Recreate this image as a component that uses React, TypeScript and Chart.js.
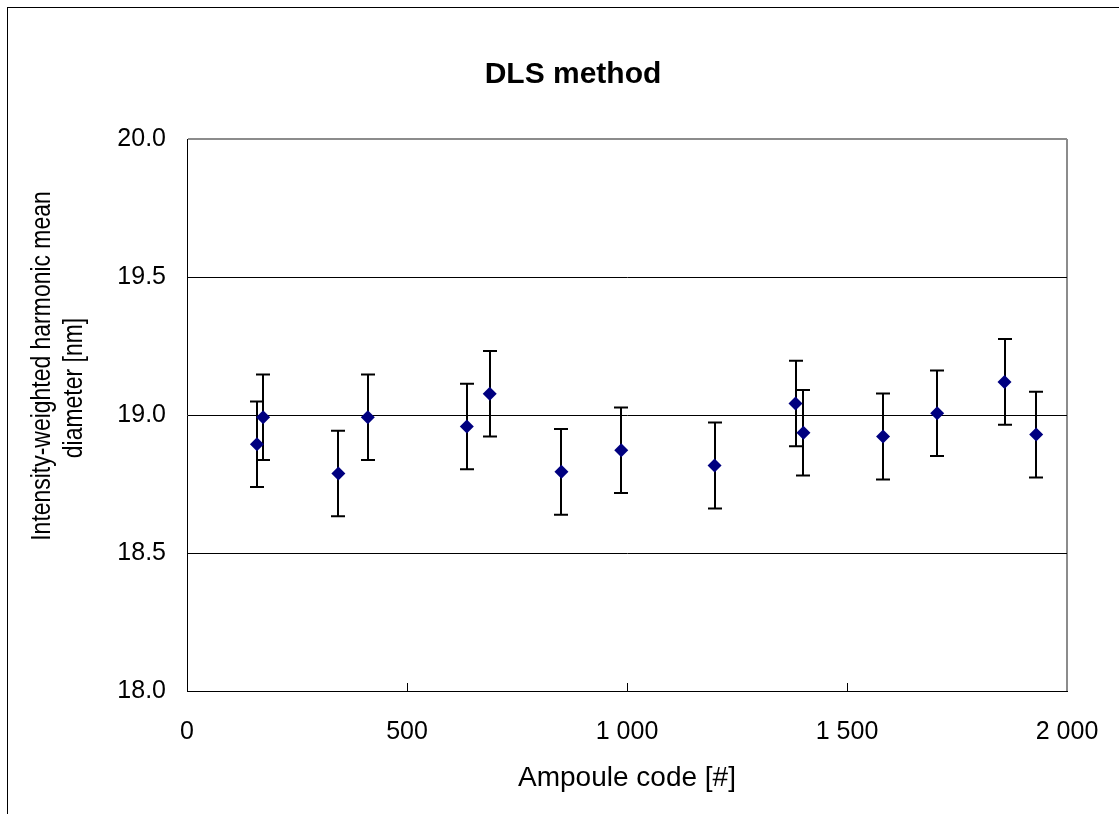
import React, { useEffect, useRef } from 'react';
import { Chart, registerables } from 'chart.js';

Chart.register(...registerables);

// ---- data ----
const ampouleCodes = [159, 173, 344, 411, 636, 688, 851, 987, 1199, 1383, 1401, 1582, 1705, 1858, 1930];
const meanDiameters = [18.894, 18.992, 18.788, 18.992, 18.958, 19.077, 18.794, 18.872, 18.817, 19.042, 18.936, 18.922, 19.006, 19.12, 18.929];
const uncertainties = [0.155, 0.155, 0.155, 0.155, 0.155, 0.155, 0.155, 0.155, 0.156, 0.155, 0.155, 0.156, 0.155, 0.155, 0.155];
const xTickValues = [0, 500, 1000, 1500, 2000];
const yTickValues = [18.0, 18.5, 19.0, 19.5, 20.0];
const chartTitle = 'DLS method';
const xAxisTitle = 'Ampoule code [#]';
const yAxisTitleLines = ['Intensity-weighted harmonic mean', 'diameter [nm]'];

const FONT = '"Liberation Sans", Arial, Helvetica, sans-serif';

const fmtThousands = (v: number) => String(v).replace(/\B(?=(\d{3})+(?!\d))/g, ' ');

const errorBarPlugin = {
  id: 'errorBars',
  beforeDatasetsDraw(chart: any) {
    const { ctx, scales } = chart;
    const xs = scales.x;
    const ys = scales.y;
    ctx.save();
    ctx.strokeStyle = '#000';
    ctx.lineWidth = 2;
    const cap = 7;
    ampouleCodes.forEach((code, i) => {
      const px = Math.round(xs.getPixelForValue(code));
      const top = ys.getPixelForValue(meanDiameters[i] + uncertainties[i]);
      const bot = ys.getPixelForValue(meanDiameters[i] - uncertainties[i]);
      ctx.beginPath();
      ctx.moveTo(px, top);
      ctx.lineTo(px, bot);
      ctx.moveTo(px - cap, top);
      ctx.lineTo(px + cap, top);
      ctx.moveTo(px - cap, bot);
      ctx.lineTo(px + cap, bot);
      ctx.stroke();
    });
    ctx.restore();
  },
  afterDraw(chart: any) {
    const { ctx, scales, chartArea } = chart;
    const xs = scales.x;
    ctx.save();
    // inward tick marks on the x axis
    ctx.strokeStyle = '#000';
    ctx.lineWidth = 1;
    xTickValues.slice(1, -1).forEach((v) => {
      const px = Math.round(xs.getPixelForValue(v)) + 0.5;
      ctx.beginPath();
      ctx.moveTo(px, chartArea.bottom);
      ctx.lineTo(px, chartArea.bottom - 8);
      ctx.stroke();
    });
    // y axis title (two lines, slightly condensed as in the reference)
    ctx.fillStyle = '#000';
    ctx.font = `27px ${FONT}`;
    ctx.textAlign = 'center';
    ctx.textBaseline = 'middle';
    const pos = [
      [chartArea.left - 144, chartArea.top + 227],
      [chartArea.left - 112, chartArea.top + 249],
    ];
    yAxisTitleLines.forEach((line, i) => {
      ctx.save();
      ctx.translate(pos[i][0], pos[i][1]);
      ctx.rotate(-Math.PI / 2);
      ctx.scale(0.85, 1);
      ctx.fillText(line, 0, 0);
      ctx.restore();
    });
    ctx.restore();
  },
};

export default function App() {
  const canvasRef = useRef<HTMLCanvasElement | null>(null);

  useEffect(() => {
    if (!canvasRef.current) return;
    const chart = new Chart(canvasRef.current, {
      type: 'scatter',
      data: {
        datasets: [
          {
            label: 'DLS',
            data: ampouleCodes.map((x, i) => ({ x, y: meanDiameters[i] })),
            pointStyle: 'rectRot',
            pointRadius: 7,
            pointHoverRadius: 7,
            pointBackgroundColor: '#000080',
            pointBorderColor: '#000080',
            pointBorderWidth: 0,
            showLine: false,
          },
        ],
      },
      options: {
        animation: false,
        responsive: false,
        events: [],
        layout: { padding: { left: 79, right: 52, top: 0, bottom: 0 } },
        plugins: {
          legend: { display: false },
          tooltip: { enabled: false },
          title: {
            display: true,
            text: chartTitle,
            color: '#000',
            font: { family: FONT, size: 30, weight: 'bold' },
            padding: { top: 57, bottom: 46 },
          },
        },
        scales: {
          x: {
            type: 'linear',
            min: 0,
            max: 2000,
            afterBuildTicks: (scale: any) => {
              scale.ticks = xTickValues.map((v) => ({ value: v }));
            },
            afterFit: (scale: any) => {
              scale.height = 123;
              scale.paddingLeft = 0;
              scale.paddingRight = 0;
            },
            ticks: {
              color: '#000',
              font: { family: FONT, size: 25 },
              padding: 26,
              maxRotation: 0,
              autoSkip: false,
              callback: (v: any) => fmtThousands(Number(v)),
            },
            grid: {
              drawTicks: false,
              color: (c: any) => (c.tick && c.tick.value === 2000 ? '#8c8c8c' : 'rgba(0,0,0,0)'),
              lineWidth: 2,
            },
            border: { display: true, color: '#000', width: 1 },
            title: {
              display: true,
              text: xAxisTitle,
              color: '#000',
              font: { family: FONT, size: 28 },
              padding: { top: 0, bottom: 19 },
            },
          },
          y: {
            type: 'linear',
            min: 18,
            max: 20,
            afterBuildTicks: (scale: any) => {
              scale.ticks = yTickValues.map((v) => ({ value: v }));
            },
            afterFit: (scale: any) => {
              scale.width = 108;
            },
            ticks: {
              color: '#000',
              font: { family: FONT, size: 25 },
              padding: 21,
              autoSkip: false,
              callback: (v: any) => Number(v).toFixed(1),
            },
            grid: {
              drawTicks: false,
              color: (c: any) => (c.tick && c.tick.value === 20 ? '#8c8c8c' : '#000'),
              lineWidth: (c: any) => (c.tick && c.tick.value === 20 ? 2 : 1),
            },
            border: { display: true, color: '#000', width: 1 },
          },
        },
      } as any,
      plugins: [errorBarPlugin],
    });
    return () => chart.destroy();
  }, []);

  return (
    <div
      style={{
        position: 'fixed',
        left: 0,
        top: 0,
        width: 1119,
        height: 814,
        overflow: 'hidden',
        background: '#fff',
      }}
    >
      <div
        style={{
          position: 'absolute',
          left: 7,
          top: 7,
          width: 1112,
          height: 807,
          borderLeft: '1px solid #000',
          borderTop: '1px solid #000',
          boxSizing: 'border-box',
        }}
      />
      <canvas
        ref={canvasRef}
        width={1119}
        height={814}
        style={{ position: 'absolute', left: 0, top: 0, width: 1119, height: 814 }}
      />
    </div>
  );
}
